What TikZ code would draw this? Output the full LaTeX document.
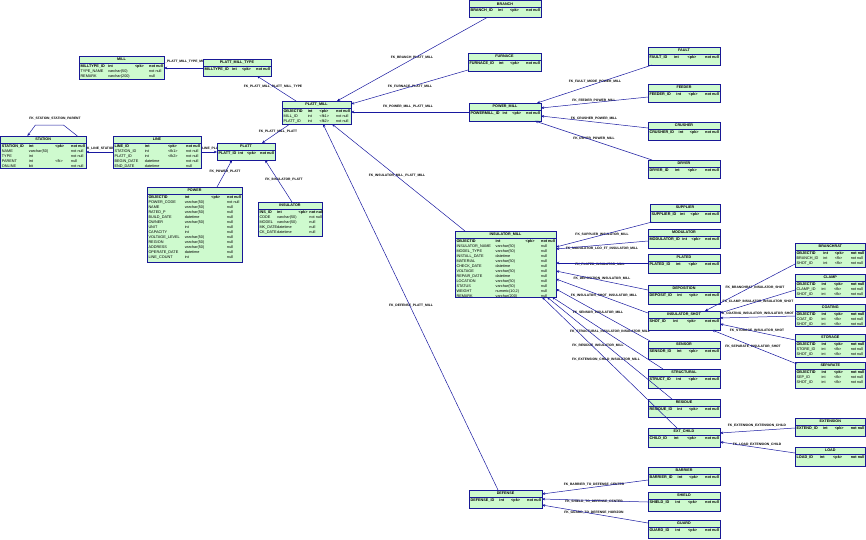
\documentclass[tikz,border=0pt]{standalone}
\usepackage{fontspec}
\setmainfont{Liberation Sans}
\usetikzlibrary{arrows.meta,fit,calc}
\definecolor{tblfill}{RGB}{206,250,206}
\definecolor{tblline}{RGB}{24,24,150}
\definecolor{fkcol}{RGB}{24,24,160}
\newdimen\tblw
\tikzset{
  tblbox/.style={draw=tblline,fill=tblfill,line width=0.7pt,inner sep=0pt,outer sep=0pt},
  tbltitle/.style={inner sep=0pt,font=\fontsize{3.7}{4}\selectfont\bfseries},
  tblrows/.style={anchor=north west,inner sep=0pt,font=\fontsize{3.8}{5}\selectfont},
  fk/.style={draw=fkcol,line width=0.5pt,-{Stealth[length=3.2pt,width=2.6pt]}},
  fklabel/.style={inner sep=0pt,font=\fontsize{3.3}{4}\selectfont\bfseries}
}
\newcommand\dbtable[7]{%
  \node[tblbox,fit={(#2,#3) (#4,#5)}] (#1) {};
  \draw[tblline,line width=0.6pt] (#2,#3+7) -- (#4,#3+7);
  \node[tbltitle] (#1-t) at ({(#2+#4)/2},#3+3.6) {#6};
  \pgfmathsetlength\tblw{#4-#2-2.6}
  \node[tblrows] (#1-r) at (#2+1.3,#3+7.8) {\setlength\tabcolsep{1pt}\begin{tabular*}{\tblw}{@{}l@{\extracolsep{\fill}}lll@{}}#7\end{tabular*}};
}
\newcommand\pkrow[1]{\textbf{#1} & \textbf{int} & \textbf{<pk>} & \textbf{not null}\\}
\begin{document}
\begin{tikzpicture}[x=1pt,y=-1pt]
\useasboundingbox (0,0) rectangle (866,539);
% ---------- relationship labels ----------
\node[fklabel] (l1) at (273,87) {FK\_PLATT\_MILL\_PLATT\_MILL\_TYPE};
\node[fklabel] (l2) at (184,62) {FK\_PLATT\_MILL\_TYPE\_MILL};
\node[fklabel] (l3) at (278,132) {FK\_PLATT\_MILL\_PLATT};
\node[fklabel] (l4) at (209,149) {FK\_LINE\_PLATT};
\node[fklabel] (l5) at (100,149) {FK\_LINE\_STATION};
\node[fklabel] (l6) at (55,119) {FK\_STATION\_STATION\_PARENT};
\node[fklabel] (l7) at (225,172) {FK\_POWER\_PLATT};
\node[fklabel] (l8) at (284,180) {FK\_INSULATOR\_PLATT};
\node[fklabel] (l9) at (412,58) {FK\_BRANCH\_PLATT\_MILL};
\node[fklabel] (l10) at (410,87) {FK\_FURNACE\_PLATT\_MILL};
\node[fklabel] (l11) at (408,107) {FK\_POWER\_MILL\_PLATT\_MILL};
\node[fklabel] (l12) at (397,176) {FK\_INSULATOR\_MILL\_PLATT\_MILL};
\node[fklabel] (l13) at (411,306) {FK\_DEFENSE\_PLATT\_MILL};
\node[fklabel] (l14) at (595,82) {FK\_FAULT\_MODE\_POWER\_MILL};
\node[fklabel] (l15) at (594,101) {FK\_FEEDER\_POWER\_MILL};
\node[fklabel] (l16) at (594,119) {FK\_CRUSHER\_POWER\_MILL};
\node[fklabel] (l17) at (594,139) {FK\_DRYER\_POWER\_MILL};
\node[fklabel] (l18) at (602,235) {FK\_SUPPLIER\_INSULATOR\_MILL};
\node[fklabel] (l19) at (602,249) {FK\_MODULATOR\_LCO\_FT\_INSULATOR\_MILL};
\node[fklabel] (l20) at (600,265) {FK\_PLATED\_INSULATOR\_MILL};
\node[fklabel] (l21) at (602,279) {FK\_DEPOSITION\_INSULATOR\_MILL};
\node[fklabel] (l22) at (604,296) {FK\_INSULATOR\_SHOT\_INSULATOR\_MILL};
\node[fklabel] (l23) at (598,313) {FK\_SENSOR\_INSULATOR\_MILL};
\node[fklabel] (l24) at (610,332) {FK\_STRUCTURAL\_INSULATOR\_INSULATOR\_MILL};
\node[fklabel] (l25) at (598,346) {FK\_RESIDUE\_INSULATOR\_MILL};
\node[fklabel] (l26) at (606,360) {FK\_EXTENSION\_CHILD\_INSULATOR\_MILL};
\node[fklabel] (l27) at (755,288) {FK\_BRANCHRAT\_INSULATOR\_SHOT};
\node[fklabel] (l28) at (758,302) {FK\_CLAMP\_INSULATOR\_INSULATOR\_SHOT};
\node[fklabel] (l29) at (757,314) {FK\_COATING\_INSULATOR\_INSULATOR\_SHOT};
\node[fklabel] (l30) at (757,331) {FK\_STORAGE\_INSULATOR\_SHOT};
\node[fklabel] (l31) at (753,347) {FK\_SEPARATE\_INSULATOR\_SHOT};
\node[fklabel] (l32) at (757,426) {FK\_EXTENSION\_EXTENSION\_CHILD};
\node[fklabel] (l33) at (757,445) {FK\_LOAD\_EXTENSION\_CHILD};
\node[fklabel] (l34) at (594,485) {FK\_BARRIER\_TO\_DEFENSE\_CENTER};
\node[fklabel] (l35) at (594,502) {FK\_SHIELD\_TO\_DEFENSE\_CENTER};
\node[fklabel] (l36) at (594,513) {FK\_GUARD\_TO\_DEFENSE\_HORIZON};
% ---------- tables ----------
\dbtable{b1}{469}{0.4}{541}{17}{BRANCH}{\pkrow{BRANCH\_ID}}
\dbtable{b2}{468}{53}{541}{71}{FURNACE}{\pkrow{FURNACE\_ID}}
\dbtable{b3}{469}{103}{541}{121}{POWER\_MILL}{\pkrow{POWERMILL\_ID}}
\dbtable{b4}{648}{47}{720}{65}{FAULT}{\pkrow{FAULT\_ID}}
\dbtable{b5}{648}{84}{720}{102}{FEEDER}{\pkrow{FEEDER\_ID}}
\dbtable{b6}{648}{122}{720}{140}{CRUSHER}{\pkrow{CRUSHER\_ID}}
\dbtable{b7}{648}{160}{720}{178}{DRYER}{\pkrow{DRYER\_ID}}
\dbtable{b8}{79}{56}{164}{79}{MILL}{\pkrow{MILLTYPE\_ID}
 TYPE\_NAME & varchar(50) & & not null\\ REMARK & varchar(200) & & null\\}
\dbtable{b9}{203}{59}{271}{76}{PLATT\_MILL\_TYPE}{\pkrow{MILLTYPE\_ID}}
\dbtable{b10}{282}{101}{351}{124}{PLATT\_MILL}{\pkrow{OBJECTID}
 MILL\_ID & int & <fk1> & not null\\ PLATT\_ID & int & <fk2> & not null\\}
\dbtable{b11}{0.4}{136}{86}{168}{STATION}{\pkrow{STATION\_ID}
 NAME & varchar(50) & & not null\\ TYPE & int & & not null\\ PARENT & int & <fk> & null\\ ONLINE & bit & & not null\\}
\dbtable{b12}{113}{136}{201}{168}{LINE}{\pkrow{LINE\_ID}
 STATION\_ID & int & <fk1> & not null\\ PLATT\_ID & int & <fk2> & not null\\ BEGIN\_DATE & datetime & & not null\\ END\_DATE & datetime & & null\\}
\dbtable{b13}{217}{143}{275}{160}{PLATT}{\pkrow{PLATT\_ID}}
\dbtable{b14}{147}{187}{242}{262}{POWER}{\pkrow{OBJECTID}
 POWER\_CODE & varchar(50) & & not null\\ NAME & varchar(50) & & null\\ RATED\_P & varchar(50) & & null\\
 BUILD\_DATE & datetime & & null\\ OWNER & varchar(50) & & null\\ UNIT & int & & null\\ CAPACITY & int & & null\\
 VOLTAGE\_LEVEL & varchar(50) & & null\\ REGION & varchar(50) & & null\\ ADDRESS & varchar(50) & & null\\
 OPERATE\_DATE & datetime & & null\\ LINE\_COUNT & int & & null\\}
\dbtable{b15}{258}{202}{322}{236}{INSULATOR}{\pkrow{INS\_ID}
 CODE & varchar(50) & & not null\\ MODEL & varchar(50) & & null\\ MK\_DATE & datetime & & null\\ CK\_DATE & datetime & & null\\}
\dbtable{big}{455}{231}{556}{297}{INSULATOR\_MILL}{\pkrow{OBJECTID}
 INSULATOR\_NAME & varchar(50) & & null\\ MODEL\_TYPE & varchar(50) & & null\\ INSTALL\_DATE & datetime & & null\\
 MATERIAL & varchar(50) & & null\\ CHECK\_DATE & datetime & & null\\ VOLTAGE & varchar(50) & & null\\
 REPAIR\_DATE & datetime & & null\\ LOCATION & varchar(50) & & null\\ STATUS & varchar(50) & & null\\
 WEIGHT & numeric(10,2) & & null\\ REMARK & varchar(200) & & null\\}
\dbtable{r1}{650}{204}{720}{222}{SUPPLIER}{\pkrow{SUPPLIER\_ID}}
\dbtable{r2}{648}{229}{720}{248}{MODULATOR}{\pkrow{MODULATOR\_ID}}
\dbtable{r3}{648}{254}{720}{273}{PLATED}{\pkrow{PLATED\_ID}}
\dbtable{r4}{648}{285}{720}{304}{DEPOSITION}{\pkrow{DEPOSIT\_ID}}
\dbtable{r5}{648}{311}{720}{330}{INSULATOR\_SHOT}{\pkrow{SHOT\_ID}}
\dbtable{r6}{648}{341}{720}{359}{SENSOR}{\pkrow{SENSOR\_ID}}
\dbtable{r7}{648}{369}{720}{388}{STRUCTURAL}{\pkrow{STRUCT\_ID}}
\dbtable{r8}{648}{399}{720}{417}{RESIDUE}{\pkrow{RESIDUE\_ID}}
\dbtable{r9}{648}{428}{720}{447}{EXT\_CHILD}{\pkrow{CHILD\_ID}}
\dbtable{f1}{795}{243}{865.6}{267}{BRANCHRAT}{\pkrow{OBJECTID}
 BRANCH\_ID & int & <fk> & not null\\ SHOT\_ID & int & <fk> & not null\\}
\dbtable{f2}{795}{274}{865.6}{297}{CLAMP}{\pkrow{OBJECTID}
 CLAMP\_ID & int & <fk> & not null\\ SHOT\_ID & int & <fk> & not null\\}
\dbtable{f3}{795}{304}{865.6}{326}{COATING}{\pkrow{OBJECTID}
 COAT\_ID & int & <fk> & not null\\ SHOT\_ID & int & <fk> & not null\\}
\dbtable{f4}{795}{334}{865.6}{357}{STORAGE}{\pkrow{OBJECTID}
 STORE\_ID & int & <fk> & not null\\ SHOT\_ID & int & <fk> & not null\\}
\dbtable{f5}{795}{362}{865.6}{388}{SEPARATE}{\pkrow{OBJECTID}
 SEP\_ID & int & <fk> & not null\\ SHOT\_ID & int & <fk> & not null\\}
\dbtable{f6}{795}{418}{865.6}{436}{EXTENSION}{\pkrow{EXTEND\_ID}}
\dbtable{f7}{795}{447}{865.6}{466}{LOAD}{\pkrow{LOAD\_ID}}
\dbtable{bt}{469}{490}{542}{508}{DEFENSE}{\pkrow{DEFENSE\_ID}}
\dbtable{s1}{648}{467}{720}{485}{BARRIER}{\pkrow{BARRIER\_ID}}
\dbtable{s2}{648}{492}{720}{511}{SHIELD}{\pkrow{SHIELD\_ID}}
\dbtable{s3}{648}{520}{720}{538.6}{GUARD}{\pkrow{GUARD\_ID}}
% ---------- references ----------
\draw[fk] ($(b10.north west)+(14,0)$) -- ($(b9.north west)+(54,17)$);
\draw[fk] ($(b9.north west)+(0,9)$) -- ($(b8.north west)+(85,12)$);
\draw[fk] ($(b10.north west)+(8,23)$) -- ($(b13.north west)+(45,0)$);
\draw[fk] ($(b12.north west)+(88,16)$) -- ($(b13.north west)+(0,9)$);
\draw[fk] ($(b12.north west)+(0,16)$) -- ($(b11.north west)+(85.6,16)$);
\draw[fk] ($(b11.north west)+(77,0)$) -- ($(b11.north west)+(63,-11)$) -- ($(b11.north west)+(35,-11)$) -- ($(b11.north west)+(27,0)$);
\draw[fk] ($(b14.north west)+(70,0)$) -- ($(b13.north west)+(15,17)$);
\draw[fk] ($(b15.north west)+(34,0)$) -- ($(b13.north west)+(48,17)$);
\draw[fk] ($(b1.north west)+(19,16.6)$) -- ($(b10.north west)+(55,0)$);
\draw[fk] ($(b2.north west)+(0,17)$) -- ($(b10.north west)+(69,3)$);
\draw[fk] ($(b3.north west)+(0,9)$) -- ($(b10.north west)+(69,11)$);
\draw[fk] ($(big.north west)+(10,0)$) -- ($(b10.north west)+(50,23)$);
\draw[fk] ($(bt.north west)+(29,0)$) -- ($(b10.north west)+(41,23)$);
\draw[fk] ($(b4.north west)+(4,18)$) -- ($(b3.north west)+(68,0)$);
\draw[fk] ($(b5.north west)+(0,13)$) -- ($(b3.north west)+(72,5)$);
\draw[fk] ($(b6.north west)+(0,6)$) -- ($(b3.north west)+(72,13)$);
\draw[fk] ($(b7.north west)+(4,0)$) -- ($(b3.north west)+(66,18)$);
\draw[fk] ($(r1.north west)+(2,18)$) -- ($(big.north west)+(101,16)$);
\draw[fk] ($(r2.north west)+(0,12)$) -- ($(big.north west)+(101,18)$);
\draw[fk] ($(r3.north west)+(0,9)$) -- ($(big.north west)+(101,32)$);
\draw[fk] ($(r4.north west)+(0,5)$) -- ($(big.north west)+(101,40)$);
\draw[fk] ($(r5.north west)+(0,2)$) -- ($(big.north west)+(101,48)$);
\draw[fk] ($(r6.north west)+(2,0)$) -- ($(big.north west)+(101,58)$);
\draw[fk] ($(r7.north west)+(15,0)$) -- ($(big.north west)+(97,66)$);
\draw[fk] ($(r8.north west)+(24,0)$) -- ($(big.north west)+(92,66)$);
\draw[fk] ($(r9.north west)+(29,0)$) -- ($(big.north west)+(87,66)$);
\draw[fk] ($(f1.north west)+(0,21)$) -- ($(r5.north west)+(57,0)$);
\draw[fk] ($(f2.north west)+(0,16)$) -- ($(r5.north west)+(72,2)$);
\draw[fk] ($(f3.north west)+(0,12)$) -- ($(r5.north west)+(72,7)$);
\draw[fk] ($(f4.north west)+(0,6)$) -- ($(r5.north west)+(72,13)$);
\draw[fk] ($(f5.north west)+(2,2)$) -- ($(r5.north west)+(64,19)$);
\draw[fk] ($(f6.north west)+(0,10)$) -- ($(r9.north west)+(72,5)$);
\draw[fk] ($(f7.north west)+(0,6)$) -- ($(r9.north west)+(72,14)$);
\draw[fk] ($(s1.north west)+(0,13)$) -- ($(bt.north west)+(73,4)$);
\draw[fk] ($(s2.north west)+(0,10)$) -- ($(bt.north west)+(73,9)$);
\draw[fk] ($(s3.north west)+(0,3)$) -- ($(bt.north west)+(73,15)$);
\end{tikzpicture}
\end{document}
